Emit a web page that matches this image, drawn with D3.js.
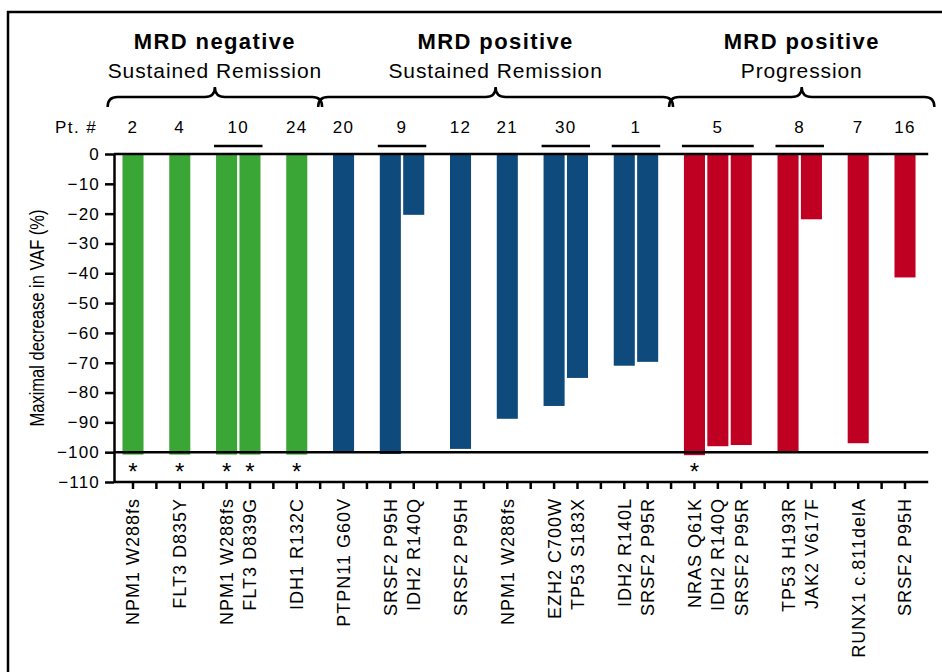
<!DOCTYPE html>
<html>
<head>
<meta charset="utf-8">
<script src="https://cdn.jsdelivr.net/npm/d3@7"></script>
<style>
  body { margin: 0; background: #fff; }
  svg text { font-family: "Liberation Sans", Arial, Helvetica, sans-serif; fill: #000; }
</style>
</head>
<body>
<svg id="chart" width="942" height="672"></svg>
<script>
// data
const groupTitles = ["MRD negative", "MRD positive", "MRD positive"];
const groupSubtitles = ["Sustained Remission", "Sustained Remission", "Progression"];
const groupColors = ["#3aa635", "#0e4a7c", "#c00022"];

const patients = ["2", "4", "10", "10", "24", "20", "9", "9", "12", "21", "30", "30", "1", "1", "5", "5", "5", "8", "8", "7", "16"];
const mutations = ["NPM1 W288fs", "FLT3 D835Y", "NPM1 W288fs", "FLT3 D839G", "IDH1 R132C",
  "PTPN11 G60V", "SRSF2 P95H", "IDH2 R140Q", "SRSF2 P95H", "NPM1 W288fs", "EZH2 C700W", "TP53 S183X",
  "IDH2 R140L", "SRSF2 P95R", "NRAS Q61K", "IDH2 R140Q", "SRSF2 P95R", "TP53 H193R", "JAK2 V617F",
  "RUNX1 c.811delA", "SRSF2 P95H"];
const groupOf = [0, 0, 0, 0, 0, 1, 1, 1, 1, 1, 1, 1, 1, 1, 2, 2, 2, 2, 2, 2, 2];
const vafChange = [-100.8, -100.8, -100.8, -100.8, -100.8,
  -99.7, -100.6, -20.4, -98.9, -88.8, -84.5, -75.1, -71.0, -69.7,
  -101, -98.0, -97.6, -99.7, -21.9, -97.0, -41.4];
const cleared = [1, 1, 1, 1, 1, 0, 0, 0, 0, 0, 0, 0, 0, 0, 1, 0, 0, 0, 0, 0, 0];
const yTicks = d3.range(0, -111, -10);

var svg = d3.select("#chart");

// one slot per bar, with an empty slot between patients
var slots = [];
var barSlot = [];
patients.forEach(function(p, i) {
  if (i > 0 && p !== patients[i - 1]) slots.push("gap" + i);
  barSlot.push("bar" + i);
  slots.push("bar" + i);
});

var x = d3.scaleBand().domain(slots).range([121.3, 916.7]).paddingInner(0.1).paddingOuter(0.05);
var y = d3.scaleLinear().domain([0, -110]).range([154, 482]);
function cx(k) { return x(k) + x.bandwidth() / 2; }

var axisLeftX = 114, axisRightX = x.range()[1] + 11.5;

// frame
svg.append("rect").attr("x", 8).attr("y", 12).attr("width", 1000).attr("height", 1000)
  .attr("fill", "none").attr("stroke", "#000").attr("stroke-width", 2.5);

// bars
svg.append("g").selectAll("rect")
  .data(vafChange)
  .enter().append("rect")
    .attr("x", function(d, i) { return x(barSlot[i]); })
    .attr("y", y(0))
    .attr("width", x.bandwidth())
    .attr("height", function(d) { return y(d) - y(0); })
    .attr("fill", function(d, i) { return groupColors[groupOf[i]]; });

// reference lines at 0 and -100
[0, -100].forEach(function(v) {
  svg.append("line")
    .attr("x1", axisLeftX).attr("x2", axisRightX)
    .attr("y1", y(v)).attr("y2", y(v))
    .attr("stroke", "#000").attr("stroke-width", 2.5);
});

// y axis
var yAxis = svg.append("g")
  .attr("transform", "translate(" + axisLeftX + ",0)")
  .call(d3.axisLeft(y).tickValues(yTicks).tickSize(9).tickSizeOuter(0).tickPadding(5));
yAxis.select(".domain").attr("stroke-width", 2.5);
yAxis.selectAll(".tick line").attr("stroke-width", 2.5);
yAxis.selectAll(".tick text").style("font-size", "17px").style("letter-spacing", "1.2px");

svg.append("text")
  .attr("transform", "translate(44," + ((y(0) + y(-110)) / 2) + ") rotate(-90)")
  .attr("text-anchor", "middle")
  .style("font-family", "'Liberation Sans Narrow', 'Arial Narrow', sans-serif")
  .style("font-size", "20px")
  .attr("textLength", 217).attr("lengthAdjust", "spacingAndGlyphs")
  .text("Maximal decrease in VAF (%)");

// x axis
var xAxis = svg.append("g")
  .attr("transform", "translate(0," + y(-110) + ")")
  .call(d3.axisBottom(x).tickSize(7).tickSizeOuter(0).tickFormat(""));
xAxis.select(".domain").remove();
xAxis.selectAll(".tick line").attr("stroke-width", 2.5);
svg.append("line")
  .attr("x1", axisLeftX).attr("x2", axisRightX)
  .attr("y1", y(-110)).attr("y2", y(-110))
  .attr("stroke", "#000").attr("stroke-width", 2.5);

svg.append("g").selectAll("text")
  .data(mutations)
  .enter().append("text")
    .attr("transform", function(d, i) { return "translate(" + cx(barSlot[i]) + ",498) rotate(-90)"; })
    .attr("text-anchor", "end")
    .attr("dy", "0.36em")
    .style("font-size", "18px")
    .style("letter-spacing", "1px")
    .text(function(d) { return d; });

// asterisks for undetectable VAF
svg.append("g").selectAll("text")
  .data(d3.range(cleared.length).filter(function(i) { return cleared[i]; }))
  .enter().append("text")
    .attr("x", function(i) { return cx(barSlot[i]); })
    .attr("y", 480)
    .attr("text-anchor", "middle")
    .style("font-size", "24px")
    .text("*");

// patient numbers + underline for multi-mutation patients
var byPatient = d3.groups(d3.range(patients.length), function(i) { return patients[i]; });
svg.append("text").attr("x", 97).attr("y", 133).attr("text-anchor", "end")
  .style("font-size", "17px").style("letter-spacing", "1.4px").text("Pt. #");
byPatient.forEach(function(p) {
  var idx = p[1];
  var first = barSlot[idx[0]], last = barSlot[idx[idx.length - 1]];
  svg.append("text")
    .attr("x", (cx(first) + cx(last)) / 2)
    .attr("y", 133)
    .attr("text-anchor", "middle")
    .style("font-size", "17px").style("letter-spacing", "1.4px")
    .text(p[0]);
  if (idx.length > 1) {
    svg.append("line")
      .attr("x1", x(first) - 2).attr("x2", x(last) + x.bandwidth() + 2)
      .attr("y1", 146).attr("y2", 146)
      .attr("stroke", "#000").attr("stroke-width", 2.5);
  }
});

// group braces and titles
groupTitles.forEach(function(t, g) {
  var idx = d3.range(groupOf.length).filter(function(i) { return groupOf[i] === g; });
  var x1 = cx(barSlot[idx[0]]) - x.step() - 2;
  var x2 = cx(barSlot[idx[idx.length - 1]]) + x.step() + 2;
  if (g === groupTitles.length - 1) x2 += 4;
  var xm = (x1 + x2) / 2;
  var top = 87, mid = 97, end = 107, r = 10;
  var path = d3.path();
  path.moveTo(x1, end);
  path.quadraticCurveTo(x1, mid, x1 + r, mid);
  path.lineTo(xm - r, mid);
  path.quadraticCurveTo(xm, mid, xm, top);
  path.quadraticCurveTo(xm, mid, xm + r, mid);
  path.lineTo(x2 - r, mid);
  path.quadraticCurveTo(x2, mid, x2, end);
  svg.append("path").attr("d", path.toString())
    .attr("fill", "none").attr("stroke", "#000").attr("stroke-width", 2.5);

  svg.append("text").attr("x", xm).attr("y", 49).attr("text-anchor", "middle")
    .style("font-size", "22px").style("font-weight", "bold").style("letter-spacing", "1.4px")
    .text(t);
  svg.append("text").attr("x", xm).attr("y", 78).attr("text-anchor", "middle")
    .style("font-size", "21px").style("letter-spacing", "0.9px")
    .text(groupSubtitles[g]);
});
</script>
</body>
</html>
